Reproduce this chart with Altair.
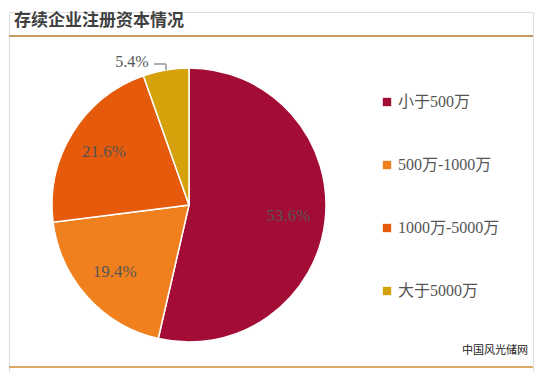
import altair as alt
import pandas as pd

categories = ["小于500万", "500万-1000万", "1000万-5000万", "大于5000万"]
values = [53.6, 19.4, 21.6, 5.4]
labels = ["53.6%", "19.4%", "21.6%", "5.4%"]
colors = ["#A30D35", "#F0801E", "#E65A0B", "#D5A20B"]

df = pd.DataFrame({"cat": categories, "val": values, "label": labels, "idx": list(range(len(values)))})

T = 4
OY = 8 + T  # page offset of plot origin (y)
W, H = 524, 364 - T
CX, CY, R = 180, 205 - OY, 137
serif = "Liberation Serif, Noto Sans CJK SC"

base = alt.Chart(df).encode(
    theta=alt.Theta("val:Q", stack=True),
    order=alt.Order("idx:Q"),
)

pie = base.mark_arc(outerRadius=R, stroke="white", strokeWidth=1.5).encode(
    x=alt.value(CX), y=alt.value(CY),
    color=alt.Color("cat:N", scale=alt.Scale(domain=categories, range=colors), sort=categories,
                    legend=alt.Legend(orient="none", legendX=370, legendY=94 - OY, title=None,
                                      symbolType="square", symbolSize=70, symbolStrokeWidth=0,
                                      labelFont=serif, labelFontSize=16, labelColor="#555555",
                                      labelOffset=3, rowPadding=47, labelLimit=200)),
)

inner = base.mark_text(radius=100, font=serif, fontSize=17, color="#555555").encode(
    x=alt.value(CX), y=alt.value(CY),
    text=alt.condition(alt.datum.idx < 3, "label:N", alt.value("")),
)

outer = base.mark_text(radius=145, font=serif, fontSize=16, color="#555555", align="right", dx=-16).encode(
    x=alt.value(CX), y=alt.value(CY),
    text=alt.condition(alt.datum.idx == 3, "label:N", alt.value("")),
)

lead1 = alt.Chart(df).mark_rule(color="#AAAAAA", strokeWidth=1).encode(
    x=alt.value(145), x2=alt.value(157), y=alt.value(64 - OY))
lead2 = alt.Chart(df).mark_rule(color="#AAAAAA", strokeWidth=1).encode(
    x=alt.value(157), y=alt.value(64 - OY), y2=alt.value(70 - OY))

title = alt.Chart(pd.DataFrame({"t": ["存续企业注册资本情况"]})).mark_text(
    align="left", baseline="middle", font="Noto Sans CJK SC", fontSize=17, fontWeight="bold", color="#404040"
).encode(x=alt.value(5), y=alt.value(21 - OY), text="t:N")

topline = alt.Chart(df).mark_rule(color="#C49A64", strokeWidth=1.5).encode(y=alt.value(36 - OY))
botline = alt.Chart(df).mark_rule(color="#DDAA66", strokeWidth=2).encode(y=alt.value(367 - OY))

mark = alt.Chart(pd.DataFrame({"t": ["中国风光储网"]})).mark_text(
    align="right", baseline="middle", font="Noto Sans CJK SC", fontSize=11, color="#222222"
).encode(x=alt.value(519), y=alt.value(351 - OY), text="t:N")

chart = alt.layer(pie, inner, outer, lead1, lead2, title, topline, botline, mark).properties(
    width=W, height=H, padding={"left": 0, "top": T, "right": 0, "bottom": 0}
).configure_view(strokeWidth=0, stroke="transparent").configure(background="white")

chart.save("out.html", embed_options={"renderer": "svg", "actions": False})
